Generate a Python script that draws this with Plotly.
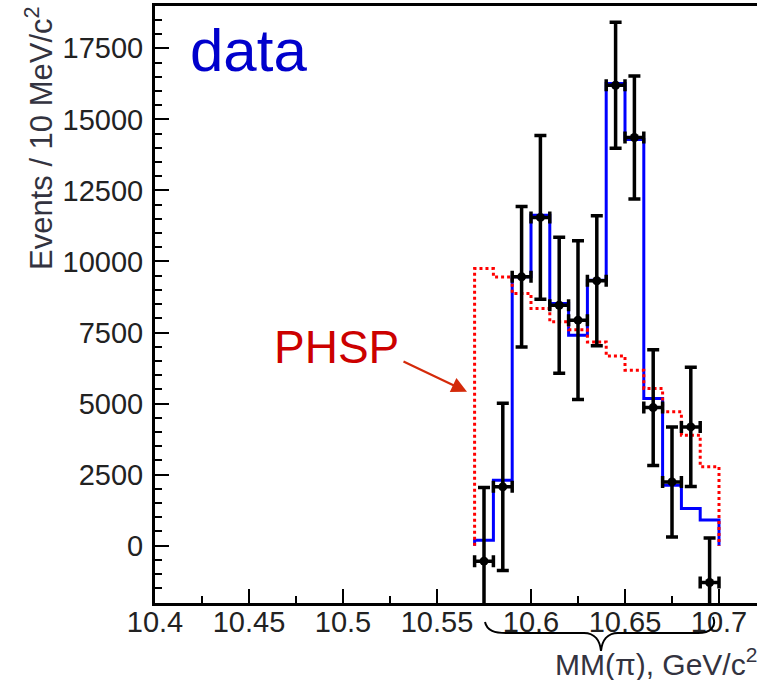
import plotly.graph_objects as go

# ---------------- data ----------------
bin_edges = [10.57, 10.58, 10.59, 10.60, 10.61, 10.62, 10.63, 10.64,
             10.65, 10.66, 10.67, 10.68, 10.69, 10.70]
bin_centers = [10.575, 10.585, 10.595, 10.605, 10.615, 10.625, 10.635,
               10.645, 10.655, 10.665, 10.675, 10.685, 10.695]
data_values = [-545, 2070, 9460, 11550, 8460, 7935, 9320,
               16200, 14360, 4860, 2245, 4180, -1295]
data_errors = [2595, 2940, 2470, 2880, 2395, 2790, 2285,
               2215, 2165, 2035, 1935, 2100, 1570]
fit_values = [195, 2305, 9460, 11630, 8520, 7405, 9340,
              16260, 14290, 5180, 2130, 1310, 900]
phsp_values = [9750, 9455, 8870, 8345, 7875, 7600, 7170,
               6670, 6175, 5530, 4710, 3890, 2775]
bin_half_width = 0.005

y_tickvals = [0, 2500, 5000, 7500, 10000, 12500, 15000, 17500]
y_ticktext = ["0", "2500", "5000", "7500", "10000", "12500", "15000", "17500"]
x_tickvals = [10.4, 10.45, 10.5, 10.55, 10.6, 10.65, 10.7]
x_ticktext = ["10.4", "10.45", "10.5", "10.55", "10.6", "10.65", "10.7"]

# ---------------- layout geometry ----------------
W, H = 757, 680
ML, MR, MT, MB = 155, 0, 6, 77
PW = W - ML - MR
PH = H - MT - MB
X0 = 10.4
XPX = 1880.0  # px per GeV
x_range = [X0, X0 + PW / XPX]
y_range = [-2016, 18988]

FONT = "Liberation Sans, Arial, Helvetica, sans-serif"


def outline(edges, vals):
    xs, ys = [edges[0]], [0]
    for i, v in enumerate(vals):
        xs += [edges[i], edges[i + 1]]
        ys += [v, v]
    xs.append(edges[-1])
    ys.append(0)
    return xs, ys


def px2x(px):
    return X0 + (px - ML) / XPX


def py2paper(py):
    return (MT + PH - py) / PH


def px2paper(px):
    return (px - ML) / PW


fig = go.Figure()

fx, fy = outline(bin_edges, fit_values)
fig.add_trace(go.Scatter(x=fx, y=fy, mode="lines",
                         line=dict(color="#0000ff", width=3),
                         showlegend=False, hoverinfo="skip"))
rx, ry = outline(bin_edges, phsp_values)
fig.add_trace(go.Scatter(x=rx, y=ry, mode="lines",
                         line=dict(color="#ff0000", width=3, dash="dot"),
                         showlegend=False, hoverinfo="skip"))
fig.add_trace(go.Scatter(
    x=bin_centers, y=data_values, mode="markers",
    marker=dict(color="black", size=9, symbol="circle"),
    error_y=dict(type="data", array=data_errors, visible=True,
                 color="black", thickness=3.5, width=6),
    error_x=dict(type="constant", value=bin_half_width, visible=True,
                 color="black", thickness=3.5, width=6),
    showlegend=False))

# brace under the x axis
pts = [(485, 622), (487, 631), (495, 633), (506, 633), (584, 633),
       (595, 633), (600, 641), (601, 651), (602, 641), (607, 633),
       (618, 633), (698, 633), (710, 633), (717, 627), (713, 617)]
c = [(px2x(a), py2paper(b)) for a, b in pts]
path = (f"M {c[0][0]},{c[0][1]} C {c[1][0]},{c[1][1]} {c[2][0]},{c[2][1]} {c[3][0]},{c[3][1]} "
        f"L {c[4][0]},{c[4][1]} C {c[5][0]},{c[5][1]} {c[6][0]},{c[6][1]} {c[7][0]},{c[7][1]} "
        f"C {c[8][0]},{c[8][1]} {c[9][0]},{c[9][1]} {c[10][0]},{c[10][1]} "
        f"L {c[11][0]},{c[11][1]} C {c[12][0]},{c[12][1]} {c[13][0]},{c[13][1]} {c[14][0]},{c[14][1]}")
fig.add_shape(type="path", path=path, xref="x", yref="paper",
              line=dict(color="black", width=2), layer="above")

annotations = [
    dict(text="data", x=px2paper(188), y=py2paper(51), xref="paper", yref="paper",
         xanchor="left", yanchor="middle", showarrow=False,
         font=dict(family=FONT, size=60, color="#0000cc")),
    dict(text="PHSP", x=px2paper(272), y=py2paper(347), xref="paper", yref="paper",
         xanchor="left", yanchor="middle", showarrow=False,
         font=dict(family=FONT, size=46, color="#cc0000")),
    dict(text="", x=px2x(467), y=(545.7 - 391.7) / 0.028423, xref="x", yref="y",
         showarrow=True, ax=-65, ay=-31, arrowhead=2, arrowsize=1.4,
         arrowwidth=2.2, arrowcolor="#d42a0a", standoff=0),
    dict(text="Events / 10 MeV/c<sup>2</sup>", x=px2paper(39), y=py2paper(4),
         xref="paper", yref="paper", xanchor="center", yanchor="top",
         textangle=-90, showarrow=False,
         font=dict(family=FONT, size=31, color="#333340")),
    dict(text="MM(\u03c0), GeV/c<sup>2</sup>", x=px2paper(759), y=py2paper(662),
         xref="paper", yref="paper", xanchor="right", yanchor="middle",
         showarrow=False, font=dict(family=FONT, size=30, color="#333340")),
]

fig.update_layout(
    width=W, height=H,
    margin=dict(l=ML, r=MR, t=MT, b=MB, pad=0),
    paper_bgcolor="white", plot_bgcolor="white",
    showlegend=False,
    annotations=annotations,
    xaxis=dict(range=x_range, showgrid=False, zeroline=False,
               showline=True, linecolor="black", linewidth=3, mirror=True,
               ticks="inside", ticklen=14, tickwidth=2, tickcolor="black",
               tickvals=x_tickvals, ticktext=x_ticktext,
               ticklabelstandoff=-9,
               tickfont=dict(family=FONT, size=29, color="#222222"),
               minor=dict(ticks="inside", ticklen=7, tickwidth=2,
                          tickcolor="black", dtick=0.025, tick0=10.4, showgrid=False)),
    yaxis=dict(range=y_range, showgrid=False, zeroline=False,
               showline=True, linecolor="black", linewidth=3, mirror=False,
               ticks="inside", ticklen=14, tickwidth=2, tickcolor="black",
               tickvals=y_tickvals, ticktext=y_ticktext,
               ticklabelstandoff=3,
               tickfont=dict(family=FONT, size=29, color="#222222"),
               minor=dict(ticks="inside", ticklen=7, tickwidth=2,
                          tickcolor="black", dtick=500, tick0=0, showgrid=False)),
)

fig.write_html("out.html")
